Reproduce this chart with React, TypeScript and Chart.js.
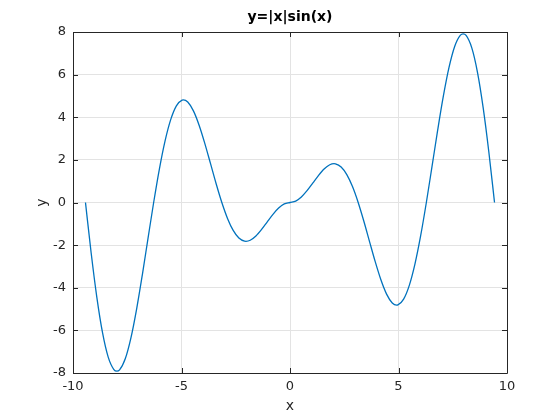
import React, { useEffect, useRef } from "react";
import { Chart, registerables } from "chart.js";

Chart.register(...registerables);

const xValues = [
  -9.4248, -9.163, -8.9012, -8.6394, -8.3776, -8.1158, -7.9787, -7.854, -7.5922, -7.3304, -7.0686, -6.8068, -6.545,
  -6.2832, -6.0214, -5.7596, -5.4978, -5.236, -4.9742, -4.9132, -4.7124, -4.4506, -4.1888, -3.927, -3.6652, -3.4034,
  -3.1416, -2.8798, -2.618, -2.3562, -2.0944, -2.0288, -1.8326, -1.5708, -1.309, -1.0472, -0.7854, -0.5236, -0.2618,
  0,
  0.2618, 0.5236, 0.7854, 1.0472, 1.309, 1.5708, 1.8326, 2.0288, 2.0944, 2.3562, 2.618, 2.8798, 3.1416,
  3.4034, 3.6652, 3.927, 4.1888, 4.4506, 4.7124, 4.9132, 4.9742, 5.236, 5.4978, 5.7596, 6.0214, 6.2832,
  6.545, 6.8068, 7.0686, 7.3304, 7.5922, 7.854, 7.9787, 8.1158, 8.3776, 8.6394, 8.9012, 9.163, 9.4248,
];

const yValues = [
  0, -2.3716, -4.4506, -6.109, -7.2552, -7.8393, -7.9167, -7.854, -7.3335, -6.3483, -4.9982, -3.4034, -1.694,
  0, 1.5585, 2.8798, 3.8875, 4.5345, 4.8047, 4.8145, 4.7124, 4.299, 3.6276, 2.7768, 1.8326, 0.8809,
  0, -0.7453, -1.309, -1.6661, -1.8138, -1.8197, -1.7702, -1.5708, -1.2644, -0.9069, -0.5554, -0.2618, -0.0678,
  0,
  0.0678, 0.2618, 0.5554, 0.9069, 1.2644, 1.5708, 1.7702, 1.8197, 1.8138, 1.6661, 1.309, 0.7453, 0,
  -0.8809, -1.8326, -2.7768, -3.6276, -4.299, -4.7124, -4.8145, -4.8047, -4.5345, -3.8875, -2.8798, -1.5585, 0,
  1.694, 3.4034, 4.9982, 6.3483, 7.3335, 7.854, 7.9167, 7.8393, 7.2552, 6.109, 4.4506, 2.3716, 0,
];

const titleText = "y=|x|sin(x)";
const xLabel = "x";
const yLabel = "y";
const xTicks = [-10, -5, 0, 5, 10];
const yTicks = [-8, -6, -4, -2, 0, 2, 4, 6, 8];

const FONT = "'DejaVu Sans', sans-serif";

const boxPlugin = {
  id: "matlabBox",
  afterDatasetsDraw(chart: any) {
    const { ctx, chartArea } = chart;
    const { left, right, top, bottom } = chartArea;
    const xs = chart.scales.x;
    const ys = chart.scales.y;
    ctx.save();
    ctx.strokeStyle = "#262626";
    ctx.lineWidth = 1;
    ctx.beginPath();
    ctx.rect(Math.round(left) + 0.5, Math.round(top) + 0.5, Math.round(right - left), Math.round(bottom - top));
    ctx.stroke();
    const tl = 5;
    ctx.beginPath();
    for (const t of xTicks) {
      const px = Math.round(xs.getPixelForValue(t)) + 0.5;
      ctx.moveTo(px, bottom);
      ctx.lineTo(px, bottom - tl);
      ctx.moveTo(px, top);
      ctx.lineTo(px, top + tl);
    }
    for (const t of yTicks) {
      const py = Math.round(ys.getPixelForValue(t)) + 0.5;
      ctx.moveTo(left, py);
      ctx.lineTo(left + tl, py);
      ctx.moveTo(right, py);
      ctx.lineTo(right - tl, py);
    }
    ctx.stroke();
    ctx.fillStyle = "#000";
    ctx.font = `bold 14px ${FONT}`;
    ctx.textAlign = "center";
    ctx.textBaseline = "middle";
    ctx.fillText(titleText, (left + right) / 2, 17);
    ctx.restore();
  },
};

export default function App() {
  const ref = useRef<HTMLCanvasElement | null>(null);
  useEffect(() => {
    document.body.style.margin = "0";
    const data = xValues.map((x, i) => ({ x, y: yValues[i] }));
    const chart = new Chart(ref.current as HTMLCanvasElement, {
      type: "line",
      data: {
        datasets: [
          {
            data,
            borderColor: "#0072BD",
            borderWidth: 1.3,
            pointRadius: 0,
            cubicInterpolationMode: "monotone",
            fill: false,
          },
        ],
      },
      options: {
        animation: false,
        responsive: false,
        devicePixelRatio: 1,
        layout: { padding: { left: 0, top: 32, right: 53, bottom: 0 } },
        plugins: { legend: { display: false }, tooltip: { enabled: false }, title: { display: false } },
        scales: {
          x: {
            type: "linear",
            min: -10,
            max: 10,
            afterBuildTicks: (s: any) => {
              s.ticks = xTicks.map((v) => ({ value: v }));
            },
            afterFit: (s: any) => {
              s.height = 47;
            },
            ticks: { color: "#262626", font: { family: FONT, size: 13 }, padding: 6, maxRotation: 0 },
            grid: { color: "#e3e3e3", drawTicks: false },
            border: { display: false },
            title: { display: true, text: xLabel, color: "#262626", font: { family: FONT, size: 14 }, padding: { top: 0, bottom: 5 } },
          },
          y: {
            type: "linear",
            min: -8,
            max: 8,
            afterBuildTicks: (s: any) => {
              s.ticks = yTicks.map((v) => ({ value: v }));
            },
            afterFit: (s: any) => {
              s.width = 73;
            },
            ticks: { color: "#262626", font: { family: FONT, size: 13 }, padding: 7 },
            grid: { color: "#e3e3e3", drawTicks: false },
            border: { display: false },
            title: { display: true, text: yLabel, color: "#262626", font: { family: FONT, size: 14 }, padding: { top: 34, bottom: 0 } },
          },
        },
      },
      plugins: [boxPlugin],
    });
    return () => chart.destroy();
  }, []);
  return <canvas ref={ref} width={560} height={420} style={{ display: "block" }} />;
}
